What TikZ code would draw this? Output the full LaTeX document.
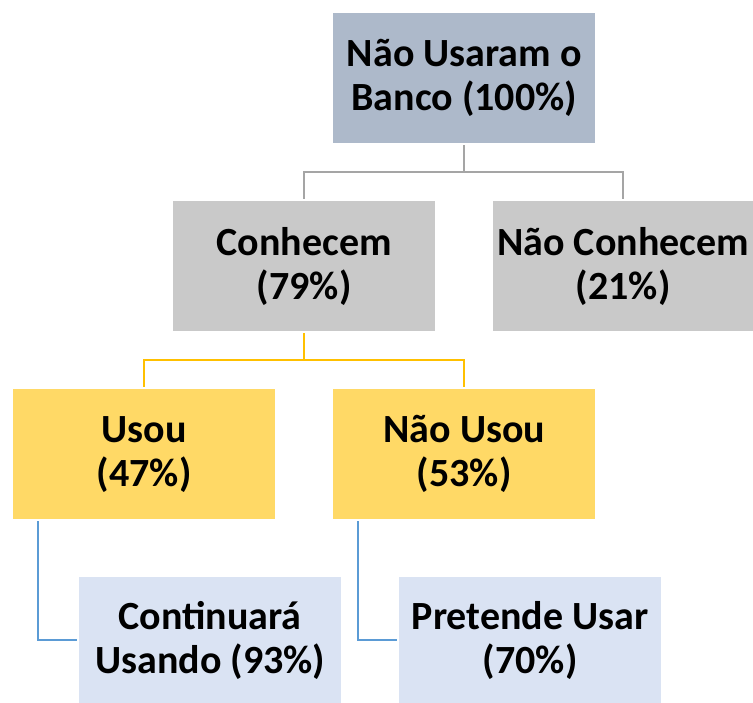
\documentclass[tikz,border=0pt]{standalone}
\usepackage{fontspec}
\setmainfont{Carlito}
\definecolor{topc}{HTML}{ADB9CA}
\definecolor{grayc}{HTML}{C9C9C9}
\definecolor{yelc}{HTML}{FFD966}
\definecolor{bluec}{HTML}{DAE3F3}
\definecolor{glc}{HTML}{A5A5A5}
\definecolor{ylc}{HTML}{FFC000}
\definecolor{blc}{HTML}{5B9BD5}
\begin{document}
\begin{tikzpicture}[x=1pt,y=-1pt,
  box/.style={anchor=north west, minimum width=262pt, minimum height=130pt, inner sep=0pt, align=center, font=\fontsize{40}{44}\selectfont\bfseries, text=black},
  conn/.style={line width=2pt, shorten <=2pt, shorten >=2pt}]
\useasboundingbox (0,0) rectangle (753,703);
\node[box, fill=topc] (top) at (333,13) {Não Usaram o\\Banco (100\%)};
\node[box, fill=grayc] (conh) at (173,201) {Conhecem\\(79\%)};
\node[box, fill=grayc, minimum width=260pt] (nconh) at (493,201) {Não Conhecem\\(21\%)};
\node[box, fill=yelc] (usou) at (13,389) {Usou\\(47\%)};
\node[box, fill=yelc] (nusou) at (333,389) {Não Usou\\(53\%)};
\node[box, fill=bluec, minimum height=126pt] (cont) at (79,577) {Continuará\\Usando (93\%)};
\node[box, fill=bluec, minimum height=126pt] (pret) at (399,577) {Pretende Usar\\(70\%)};
\draw[conn, glc, shorten >=0pt] (top.south) -- ++(0,29) coordinate (f1);
\draw[conn, glc, shorten <=0pt] (f1) -| (conh.north);
\draw[conn, glc, shorten <=0pt] (f1) -| (nconh.north);
\draw[conn, ylc, shorten >=0pt] (conh.south) -- ++(0,29) coordinate (f2);
\draw[conn, ylc, shorten <=0pt] (f2) -| (usou.north);
\draw[conn, ylc, shorten <=0pt] (f2) -| (nusou.north);
\draw[conn, blc] ([xshift=25pt]usou.south west) |- (cont.west);
\draw[conn, blc] ([xshift=25pt]nusou.south west) |- (pret.west);
\end{tikzpicture}
\end{document}
